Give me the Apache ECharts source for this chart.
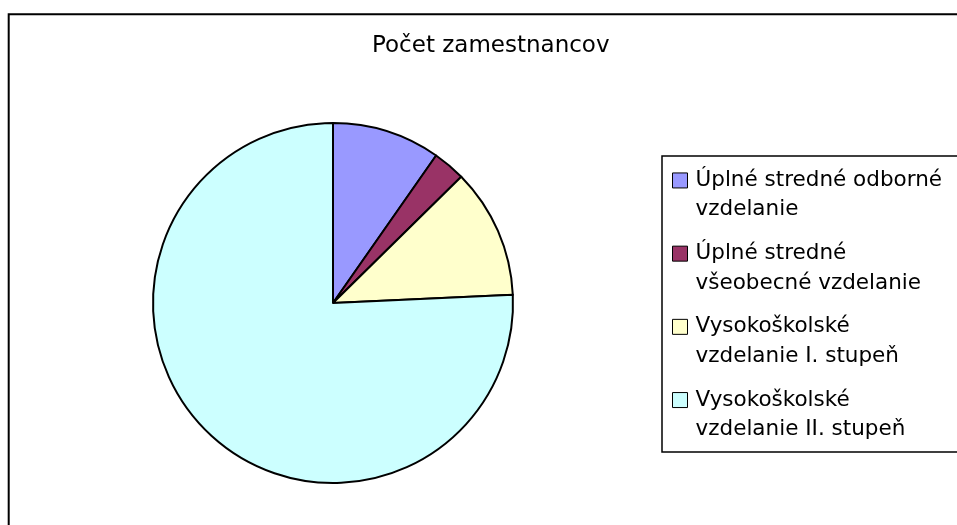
<!DOCTYPE html>
<html>
<head>
<meta charset="utf-8">
<title>Počet zamestnancov</title>
<script src="https://cdn.jsdelivr.net/npm/echarts@6/dist/echarts.min.js"></script>
<style>
	html, body { margin: 0; padding: 0; background: #fff; }
	#main { width: 957px; height: 525px; }
</style>
</head>
<body>
<div id="main"></div>
<script>
//data
var categories = [
	'Úplné stredné odborné\nvzdelanie',
	'Úplné stredné\nvšeobecné vzdelanie',
	'Vysokoškolské\nvzdelanie I. stupeň',
	'Vysokoškolské\nvzdelanie II. stupeň'
];
var values = [10, 3, 12, 78];
var colors = ['#9999FF', '#993366', '#FFFFCC', '#CCFFFF'];

var pieData = new Array();
for (var i = 0; i < categories.length; i++) {
	pieData.push({
		name: categories[i],
		value: values[i]
	});
}

var lineH = 29.3;

option = {
	animation: false,
	color: colors,
	title: {
		text: 'Počet zamestnancov',
		left: 372,
		top: 35,
		padding: 0,
		textStyle: {
			fontFamily: 'DejaVu Sans',
			fontSize: 23,
			fontWeight: 'normal',
			color: '#000'
		}
	},
	legend: {
		orient: 'vertical',
		left: 672,
		top: 136.5,
		padding: 0,
		icon: 'rect',
		itemWidth: 15,
		itemHeight: 15,
		itemGap: -14.7,
		selectedMode: false,
		itemStyle: {
			borderColor: '#000',
			borderWidth: 1
		},
		//blank first line so the marker sits beside the first text line
		formatter: function (name) {
			return '\n' + name;
		},
		textStyle: {
			fontFamily: 'DejaVu Sans',
			fontSize: 21.5,
			lineHeight: lineH,
			color: '#000',
			padding: [0, 0, 0, 3]
		},
		data: categories
	},
	graphic: [{
			//outer frame
			type: 'rect',
			shape: { x: 8.7, y: 14.3, width: 1000, height: 600 },
			style: { fill: 'none', stroke: '#000', lineWidth: 2 },
			silent: true
		},
		{
			//legend box
			type: 'rect',
			shape: { x: 662, y: 156, width: 400, height: 296 },
			style: { fill: 'none', stroke: '#000', lineWidth: 1.5 },
			silent: true
		}
	],
	series: [{
		type: 'pie',
		center: [333, 303],
		radius: 180,
		startAngle: 90,
		clockwise: true,
		label: { show: false },
		labelLine: { show: false },
		emphasis: { disabled: true },
		itemStyle: {
			borderColor: '#000',
			borderWidth: 2
		},
		data: pieData
	}]
};

var myChart = echarts.init(document.getElementById('main'));
myChart.setOption(option);
</script>
</body>
</html>
